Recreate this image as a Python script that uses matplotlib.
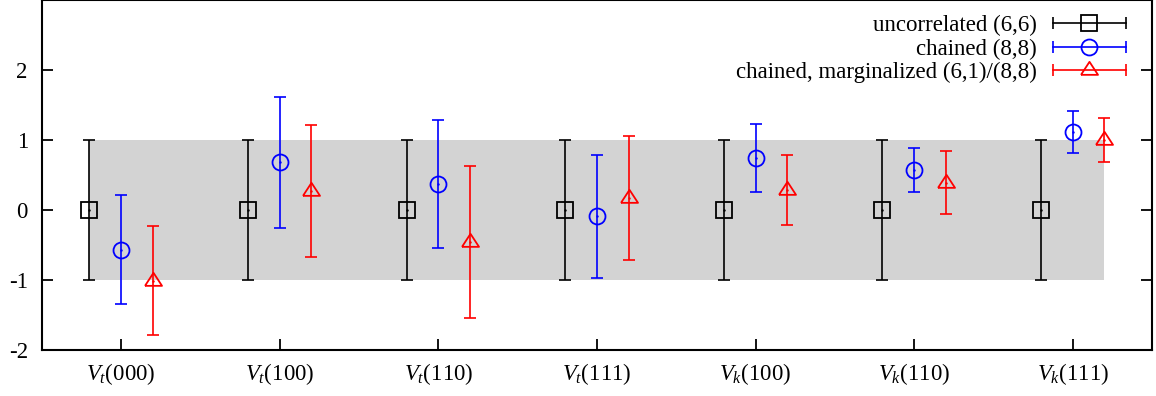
import numpy as np
import matplotlib
matplotlib.use("Agg")
import matplotlib.pyplot as plt
from matplotlib.legend_handler import HandlerBase
from matplotlib.lines import Line2D

plt.rcParams["font.family"] = ["Liberation Serif", "DejaVu Serif"]
plt.rcParams["mathtext.fontset"] = "custom"
plt.rcParams["mathtext.rm"] = "Liberation Serif"
plt.rcParams["mathtext.it"] = "Liberation Serif:italic"
plt.rcParams["axes.unicode_minus"] = False
FS = 16.5
plt.rcParams["font.size"] = FS

# Parameters and fitted values
categories = [r"$V_t$(000)", r"$V_t$(100)", r"$V_t$(110)", r"$V_t$(111)",
              r"$V_k$(100)", r"$V_k$(110)", r"$V_k$(111)"]

uncorr_val = [0, 0, 0, 0, 0, 0, 0]
uncorr_err = [1, 1, 1, 1, 1, 1, 1]

chained_val = [-0.57, 0.68, 0.37, -0.09, 0.74, 0.57, 1.11]
chained_err = [0.78, 0.94, 0.92, 0.88, 0.49, 0.32, 0.30]

marg_val = [-1.01, 0.27, -0.46, 0.17, 0.29, 0.39, 1.00]
marg_err = [0.78, 0.94, 1.09, 0.88, 0.50, 0.45, 0.32]

labels = ["uncorrelated (6,6)", "chained (8,8)",
          "chained, marginalized (6,1)/(8,8)"]
colors = ["black", "#0000ff", "#ff0000"]

# wide triangle with the data point at its centroid
tri = [(-1, -0.51), (1, -0.51), (0, 1.02), (-1, -0.51)]
markers = ["s", "o", tri]
msizes = [11.5, 11.5, 12.5]
offsets = [-0.2, 0.0, 0.2]

x = np.arange(len(categories))

fig = plt.figure(figsize=(11.56, 3.96), dpi=100)
ax = fig.add_axes([0.0361, 0.1162, 0.9605, 0.8838])

# shaded +/- 1 band spanning all the points
band_x = [x[0] + offsets[0], x[-1] + offsets[-1]]
ax.fill_between(band_x, -1, 1, color="#d3d3d3", lw=0, zorder=0)

series = [(uncorr_val, uncorr_err), (chained_val, chained_err),
          (marg_val, marg_err)]
for (vals, errs), col, mk, ms, off in zip(series, colors, markers, msizes,
                                         offsets):
    ax.errorbar(x + off, vals, yerr=errs, fmt="none", ecolor=col,
                elinewidth=1.2, capsize=4, capthick=1.2, zorder=3)
    ax.plot(x + off, vals, ls="none", marker=mk, mfc="none", mec=col,
            mew=1.3, ms=ms, zorder=4)
    ax.plot(x + off, vals, ".", color=col, ms=1.5, zorder=4)


class ErrKey(HandlerBase):
    def create_artists(self, legend, orig_handle, xdescent, ydescent,
                       width, height, fontsize, trans):
        col, mk, ms = orig_handle
        y = height / 2 - ydescent
        x0, x1 = -xdescent, -xdescent + width
        line = Line2D([x0, x1], [y, y], color=col, lw=1.2)
        caps = Line2D([x0, x1], [y, y], ls="none", marker="|", color=col,
                      ms=8, mew=1.2)
        pt = Line2D([(x0 + x1) / 2], [y], ls="none", marker=mk, mfc="none",
                    mec=col, mew=1.3, ms=ms)
        for a in (line, caps, pt):
            a.set_transform(trans)
        return [line, caps, pt]


handles = [(c, m, s) for c, m, s in zip(colors, markers, msizes)]
ax.legend(handles, labels, handler_map={tuple: ErrKey()},
          loc="upper right", bbox_to_anchor=(0.9766, 0.957),
          frameon=False, markerfirst=False, handlelength=3.2,
          handletextpad=0.7, labelspacing=0.1, borderpad=0,
          borderaxespad=0, fontsize=FS)

ax.set_xlim(-0.5, 6.5)
ax.set_ylim(-2, 3)
ax.set_xticks(x)
ax.set_xticklabels(categories)
ax.set_yticks([-2, -1, 0, 1, 2])
ax.tick_params(axis="y", direction="in", length=8, width=1.3, pad=10,
               left=True, right=True, labelsize=FS)
ax.tick_params(axis="x", direction="in", length=8, width=1.3, pad=8,
               top=False, bottom=True, labelsize=FS)
for s in ax.spines.values():
    s.set_linewidth(1.5)

fig.savefig("out.png", dpi=100)
